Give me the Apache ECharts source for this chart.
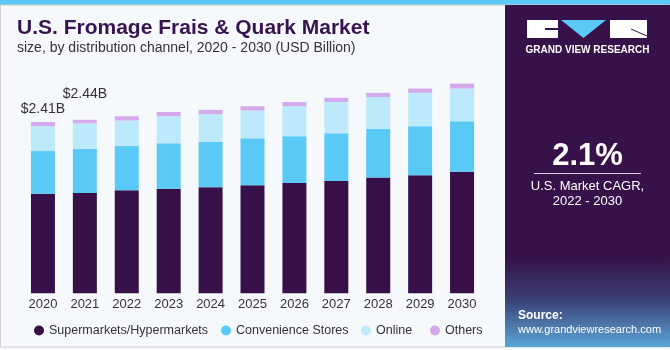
<!DOCTYPE html>
<html><head><meta charset="utf-8">
<script src="https://cdn.jsdelivr.net/npm/echarts@6/dist/echarts.min.js"></script>
<style>html,body{margin:0;padding:0;background:#fff}#c{width:670px;height:350px}</style>
</head><body><div id="c"></div>
<script>
const years = ['2020','2021','2022','2023','2024','2025','2026','2027','2028','2029','2030'];
const supermarkets = [1.40,1.41,1.45,1.47,1.49,1.52,1.55,1.58,1.63,1.66,1.71];
const convenience = [0.60,0.62,0.62,0.64,0.64,0.66,0.66,0.67,0.68,0.69,0.71];
const online = [0.35,0.36,0.36,0.38,0.39,0.39,0.42,0.44,0.45,0.47,0.46];
const others = [0.06,0.05,0.06,0.06,0.06,0.06,0.06,0.06,0.06,0.06,0.07];
const seriesNames = ['Supermarkets/Hypermarkets','Convenience Stores','Online','Others'];
const totalLabels = {0:'$2.41B', 1:'$2.44B'};
const labelDistance = {0:6, 1:19};

const chart = echarts.init(document.getElementById('c'));
const font = '"Liberation Sans", Arial, sans-serif';
const othersData = others.map((v,i)=> {
  if (totalLabels[i]) return {value:v, label:{show:true, position:'top', distance:labelDistance[i], formatter:totalLabels[i], fontSize:14, color:'#333', fontFamily:font}};
  return v;
});
const legendLefts = [29, 216, 356, 425];
const legends = seriesNames.map((n,i)=>({
  left:legendLefts[i], top:319, icon:'circle', itemWidth:10, itemHeight:10, itemGap:0,
  textStyle:{fontSize:12.5, color:'#333', fontFamily:font, padding:[0,0,0,0]}, data:[n]
}));
chart.setOption({
  backgroundColor:'#f5f9fc',
  animation:false,
  grid:{left:22, right:187, top:80, bottom:56.7},
  xAxis:{type:'category', data:years, axisLine:{show:false}, axisTick:{show:false},
    axisLabel:{fontSize:13, color:'#333', fontFamily:font, margin:5}},
  yAxis:{type:'value', min:0, max:3, show:false, splitLine:{show:false}},
  legend:legends,
  series:[
    {name:seriesNames[0], type:'bar', stack:'t', barWidth:24, data:supermarkets, itemStyle:{color:'#37104a'}},
    {name:seriesNames[1], type:'bar', stack:'t', data:convenience, itemStyle:{color:'#5bc9f6'}},
    {name:seriesNames[2], type:'bar', stack:'t', data:online, itemStyle:{color:'#bdeafa'}},
    {name:seriesNames[3], type:'bar', stack:'t', data:othersData, itemStyle:{color:'#d4aaec'}}
  ],
  graphic:[
    {type:'rect', shape:{x:0,y:0,width:670,height:5}, style:{fill:'#5bc9f6'}},
    {type:'rect', shape:{x:0.5,y:5,width:669,height:342}, style:{fill:'none', stroke:'#cfcfcf', lineWidth:1}, silent:true},
    {type:'text', left:17, top:18, style:{text:'U.S. Fromage Frais & Quark Market', font:'bold 21px '+font, fill:'#381350'}},
    {type:'text', left:17, top:41, style:{text:'size, by distribution channel, 2020 - 2030 (USD Billion)', font:'14px '+font, fill:'#333'}},
    {type:'rect', shape:{x:505,y:5,width:165,height:342}, style:{fill:new echarts.graphic.LinearGradient(0,0,0,1,[
      {offset:0,color:'#37124a'},{offset:0.74,color:'#37124a'},{offset:0.86,color:'#3b3f74'},{offset:1,color:'#5aa6d6'}])}},
    {type:'rect', shape:{x:527,y:20,width:31,height:18}, style:{fill:'#fff'}},
    {type:'rect', shape:{x:545,y:28,width:13,height:2}, style:{fill:'#37124a'}},
    {type:'polygon', shape:{points:[[561,20],[606,20],[583.5,38]]}, style:{fill:'#5bc9f6'}},
    {type:'rect', shape:{x:610,y:20,width:37,height:18}, style:{fill:'#fff'}},
    {type:'line', shape:{x1:631,y1:29,x2:647,y2:36}, style:{stroke:'#37124a', lineWidth:1}},
    {type:'text', x:587.5, y:50, style:{text:'GRAND VIEW RESEARCH', font:'bold 10px '+font, fill:'#fff', align:'center', verticalAlign:'middle'}},
    {type:'text', x:587.5, y:156, style:{text:'2.1%', font:'bold 31px '+font, fill:'#fff', align:'center', verticalAlign:'middle'}},
    {type:'line', shape:{x1:534,y1:173.5,x2:641,y2:173.5}, style:{stroke:'#d8d0e0', lineWidth:1}},
    {type:'text', x:587.5, y:186, style:{text:'U.S. Market CAGR,', font:'13px '+font, fill:'#fff', align:'center', verticalAlign:'middle'}},
    {type:'text', x:587.5, y:201, style:{text:'2022 - 2030', font:'13px '+font, fill:'#fff', align:'center', verticalAlign:'middle'}},
    {type:'text', x:518, y:316, style:{text:'Source:', font:'bold 12px '+font, fill:'#fff', verticalAlign:'middle'}},
    {type:'text', x:518, y:330, style:{text:'www.grandviewresearch.com', font:'11px '+font, fill:'#fff', verticalAlign:'middle'}}
  ]
});
</script></body></html>
